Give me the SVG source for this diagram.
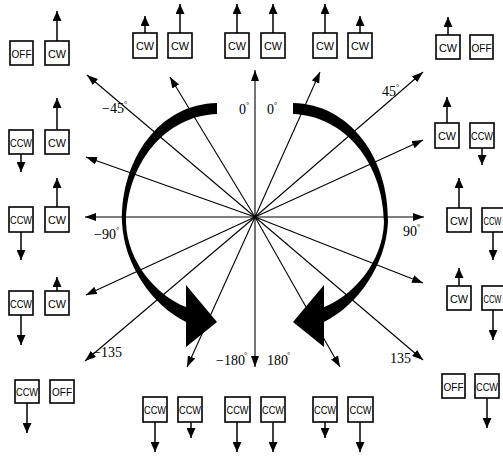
<svg xmlns="http://www.w3.org/2000/svg" width="503" height="457" viewBox="0 0 503 457">
  <style>
    .box { fill: #fff; stroke: #000; stroke-width: 1.6; }
    .bt { font-family: "Liberation Sans", Arial, sans-serif; font-size: 11px; text-anchor: middle; fill: #000; }
    .ray { stroke: #000; stroke-width: 1.1; fill: none; marker-end: url(#tip); }
    .sig { stroke: #000; stroke-width: 1.5; fill: none; marker-end: url(#tip2); }
    .ang { font-family: "Liberation Serif", "Times New Roman", serif; font-size: 14px; fill: #000; }
    .dg { font-size: 8px; }
  </style>
  <defs>
    <marker id="tip" viewBox="0 0 11 8" refX="11" refY="4" markerWidth="11" markerHeight="8" markerUnits="userSpaceOnUse" orient="auto">
      <path d="M0,0 L11,4 L0,8 Z" fill="#000"/>
    </marker>
    <marker id="tip2" viewBox="0 0 10 9" refX="10" refY="4.5" markerWidth="10" markerHeight="9" markerUnits="userSpaceOnUse" orient="auto">
      <path d="M0,0 L10,4.5 L0,9 Z" fill="#000"/>
    </marker>
    <!-- thick curved rotation arrow, left half; mirrored for the right half -->
    <path id="turn" d="M217,103 C160,104 121,158 122,222 C124,265 152,305 186,322 L186,347 L217,322 L186,285 L186,307 C157,296 127,262 126,222 C127,163 165,116 217,114 Z" fill="#000"/>
  </defs>

  <!-- radial direction rays -->
  <g id="rays">
    <line class="ray" x1="255" y1="217" x2="255" y2="70"/>
    <line class="ray" x1="255" y1="217" x2="255" y2="367"/>
    <line class="ray" x1="255" y1="217" x2="85" y2="217"/>
    <line class="ray" x1="255" y1="217" x2="424" y2="217"/>
    <line class="ray" x1="255" y1="217" x2="170" y2="77"/>
    <line class="ray" x1="255" y1="217" x2="87" y2="75"/>
    <line class="ray" x1="255" y1="217" x2="86" y2="157"/>
    <line class="ray" x1="255" y1="217" x2="86" y2="295"/>
    <line class="ray" x1="255" y1="217" x2="85" y2="361"/>
    <line class="ray" x1="255" y1="217" x2="187" y2="367"/>
    <line class="ray" x1="255" y1="217" x2="320" y2="72"/>
    <line class="ray" x1="255" y1="217" x2="423" y2="72"/>
    <line class="ray" x1="255" y1="217" x2="423" y2="140"/>
    <line class="ray" x1="255" y1="217" x2="423" y2="283"/>
    <line class="ray" x1="255" y1="217" x2="423" y2="360"/>
    <line class="ray" x1="255" y1="217" x2="340" y2="367"/>
  </g>

  <!-- rotation arrows -->
  <g id="rotation">
    <use href="#turn"/>
    <use href="#turn" transform="translate(510,0) scale(-1,1)"/>
  </g>

  <!-- angle labels -->
  <g id="angles">
    <text class="ang" x="102" y="113">−45<tspan class="dg" dy="-6">°</tspan></text>
    <text class="ang" x="239" y="114">0<tspan class="dg" dy="-6">°</tspan></text>
    <text class="ang" x="267" y="114">0<tspan class="dg" dy="-6">°</tspan></text>
    <text class="ang" x="382" y="96">45<tspan class="dg" dy="-6">°</tspan></text>
    <text class="ang" x="94" y="239">−90<tspan class="dg" dy="-6">°</tspan></text>
    <text class="ang" x="403" y="236">90<tspan class="dg" dy="-6">°</tspan></text>
    <text class="ang" x="93" y="357">−135</text>
    <text class="ang" x="216" y="365">−180<tspan class="dg" dx="-1" dy="-7">°</tspan></text>
    <text class="ang" x="267" y="365">180<tspan class="dg" dx="-1" dy="-7">°</tspan></text>
    <text class="ang" x="390" y="363">135</text>
  </g>

  <!-- valve state boxes: top-left -->
  <g id="tl-off"><rect class="box" x="10" y="41" width="23" height="24"/><text class="bt" x="21.5" y="57.5" textLength="20" lengthAdjust="spacingAndGlyphs">OFF</text></g>
  <g id="tl-cw"><rect class="box" x="45" y="41" width="24" height="24"/><text class="bt" x="57" y="57.5" textLength="18" lengthAdjust="spacingAndGlyphs">CW</text><line class="sig" x1="57" y1="41" x2="57" y2="11"/></g>

  <!-- top row -->
  <g id="t1"><rect class="box" x="133" y="33" width="24" height="25"/><text class="bt" x="145" y="50" textLength="18" lengthAdjust="spacingAndGlyphs">CW</text><line class="sig" x1="145" y1="33" x2="145" y2="16"/></g>
  <g id="t2"><rect class="box" x="168" y="33" width="24" height="25"/><text class="bt" x="180" y="50" textLength="18" lengthAdjust="spacingAndGlyphs">CW</text><line class="sig" x1="180" y1="33" x2="180" y2="4"/></g>
  <g id="t3"><rect class="box" x="225" y="33" width="24" height="25"/><text class="bt" x="237" y="50" textLength="18" lengthAdjust="spacingAndGlyphs">CW</text><line class="sig" x1="237" y1="33" x2="237" y2="4"/></g>
  <g id="t4"><rect class="box" x="261" y="33" width="24" height="25"/><text class="bt" x="273" y="50" textLength="18" lengthAdjust="spacingAndGlyphs">CW</text><line class="sig" x1="273" y1="33" x2="273" y2="4"/></g>
  <g id="t5"><rect class="box" x="313" y="33" width="24" height="25"/><text class="bt" x="325" y="50" textLength="18" lengthAdjust="spacingAndGlyphs">CW</text><line class="sig" x1="325" y1="33" x2="325" y2="4"/></g>
  <g id="t6"><rect class="box" x="348" y="33" width="24" height="25"/><text class="bt" x="360" y="50" textLength="18" lengthAdjust="spacingAndGlyphs">CW</text><line class="sig" x1="360" y1="33" x2="360" y2="16"/></g>

  <!-- top-right -->
  <g id="tr-cw"><rect class="box" x="436" y="35" width="24" height="24"/><text class="bt" x="448" y="51.5" textLength="18" lengthAdjust="spacingAndGlyphs">CW</text><line class="sig" x1="448" y1="35" x2="448" y2="17"/></g>
  <g id="tr-off"><rect class="box" x="470" y="35" width="23" height="24"/><text class="bt" x="481.5" y="51.5" textLength="20" lengthAdjust="spacingAndGlyphs">OFF</text></g>

  <!-- left column -->
  <g id="l1-ccw"><rect class="box" x="9" y="130" width="24" height="24"/><text class="bt" x="21" y="146.5" textLength="22" lengthAdjust="spacingAndGlyphs">CCW</text><line class="sig" x1="21" y1="154" x2="21" y2="172"/></g>
  <g id="l1-cw"><rect class="box" x="45" y="130" width="24" height="24"/><text class="bt" x="57" y="146.5" textLength="18" lengthAdjust="spacingAndGlyphs">CW</text><line class="sig" x1="57" y1="130" x2="57" y2="98"/></g>
  <g id="l2-ccw"><rect class="box" x="9" y="207" width="24" height="25"/><text class="bt" x="21" y="224" textLength="22" lengthAdjust="spacingAndGlyphs">CCW</text><line class="sig" x1="21" y1="232" x2="21" y2="260"/></g>
  <g id="l2-cw"><rect class="box" x="45" y="207" width="24" height="25"/><text class="bt" x="57" y="224" textLength="18" lengthAdjust="spacingAndGlyphs">CW</text><line class="sig" x1="57" y1="207" x2="57" y2="178"/></g>
  <g id="l3-ccw"><rect class="box" x="9" y="291" width="24" height="24"/><text class="bt" x="21" y="307.5" textLength="22" lengthAdjust="spacingAndGlyphs">CCW</text><line class="sig" x1="21" y1="315" x2="21" y2="345"/></g>
  <g id="l3-cw"><rect class="box" x="45" y="291" width="24" height="24"/><text class="bt" x="57" y="307.5" textLength="18" lengthAdjust="spacingAndGlyphs">CW</text><line class="sig" x1="57" y1="291" x2="57" y2="277"/></g>

  <!-- right column (last two boxes run past the right edge) -->
  <g id="r1-cw"><rect class="box" x="435" y="123" width="24" height="25"/><text class="bt" x="447" y="140" textLength="18" lengthAdjust="spacingAndGlyphs">CW</text><line class="sig" x1="447" y1="123" x2="447" y2="97"/></g>
  <g id="r1-ccw"><rect class="box" x="470" y="123" width="24" height="25"/><text class="bt" x="482" y="140" textLength="22" lengthAdjust="spacingAndGlyphs">CCW</text><line class="sig" x1="482" y1="148" x2="482" y2="165"/></g>
  <g id="r2-cw"><rect class="box" x="447" y="208" width="24" height="24"/><text class="bt" x="459" y="224.5" textLength="18" lengthAdjust="spacingAndGlyphs">CW</text><line class="sig" x1="459" y1="208" x2="459" y2="178"/></g>
  <g id="r2-ccw"><rect class="box" x="482" y="208" width="24" height="24"/><text class="bt" transform="translate(492.5,224.5) scale(0.68,1)" x="0" y="0">CCW</text><line class="sig" x1="493" y1="232" x2="493" y2="260"/></g>
  <g id="r3-cw"><rect class="box" x="447" y="286" width="24" height="24"/><text class="bt" x="459" y="302.5" textLength="18" lengthAdjust="spacingAndGlyphs">CW</text><line class="sig" x1="459" y1="286" x2="459" y2="268"/></g>
  <g id="r3-ccw"><rect class="box" x="482" y="286" width="24" height="24"/><text class="bt" transform="translate(492.5,302.5) scale(0.68,1)" x="0" y="0">CCW</text><line class="sig" x1="493" y1="310" x2="493" y2="340"/></g>

  <!-- bottom-left -->
  <g id="bl-ccw"><rect class="box" x="15" y="380" width="24" height="23"/><text class="bt" x="27" y="395.5" textLength="22" lengthAdjust="spacingAndGlyphs">CCW</text><line class="sig" x1="27" y1="403" x2="27" y2="433"/></g>
  <g id="bl-off"><rect class="box" x="50" y="380" width="24" height="23"/><text class="bt" x="62" y="395.5" textLength="20" lengthAdjust="spacingAndGlyphs">OFF</text></g>

  <!-- bottom row -->
  <g id="b1"><rect class="box" x="143" y="397" width="24" height="25"/><text class="bt" x="155" y="414" textLength="22" lengthAdjust="spacingAndGlyphs">CCW</text><line class="sig" x1="155" y1="422" x2="155" y2="452"/></g>
  <g id="b2"><rect class="box" x="178" y="397" width="24" height="25"/><text class="bt" x="190" y="414" textLength="22" lengthAdjust="spacingAndGlyphs">CCW</text><line class="sig" x1="191" y1="422" x2="191" y2="438"/></g>
  <g id="b3"><rect class="box" x="225" y="397" width="25" height="25"/><text class="bt" x="237.5" y="414" textLength="22" lengthAdjust="spacingAndGlyphs">CCW</text><line class="sig" x1="237" y1="422" x2="237" y2="452"/></g>
  <g id="b4"><rect class="box" x="261" y="397" width="24" height="25"/><text class="bt" x="273" y="414" textLength="22" lengthAdjust="spacingAndGlyphs">CCW</text><line class="sig" x1="273" y1="422" x2="273" y2="452"/></g>
  <g id="b5"><rect class="box" x="313" y="397" width="24" height="25"/><text class="bt" x="325" y="414" textLength="22" lengthAdjust="spacingAndGlyphs">CCW</text><line class="sig" x1="325" y1="422" x2="325" y2="438"/></g>
  <g id="b6"><rect class="box" x="348" y="397" width="25" height="25"/><text class="bt" x="360.5" y="414" textLength="22" lengthAdjust="spacingAndGlyphs">CCW</text><line class="sig" x1="360" y1="422" x2="360" y2="452"/></g>

  <!-- bottom-right -->
  <g id="br-off"><rect class="box" x="442" y="374" width="23" height="24"/><text class="bt" x="453.5" y="390.5" textLength="20" lengthAdjust="spacingAndGlyphs">OFF</text></g>
  <g id="br-ccw"><rect class="box" x="475" y="374" width="24" height="24"/><text class="bt" x="487" y="390.5" textLength="22" lengthAdjust="spacingAndGlyphs">CCW</text><line class="sig" x1="487" y1="398" x2="487" y2="428"/></g>
</svg>
